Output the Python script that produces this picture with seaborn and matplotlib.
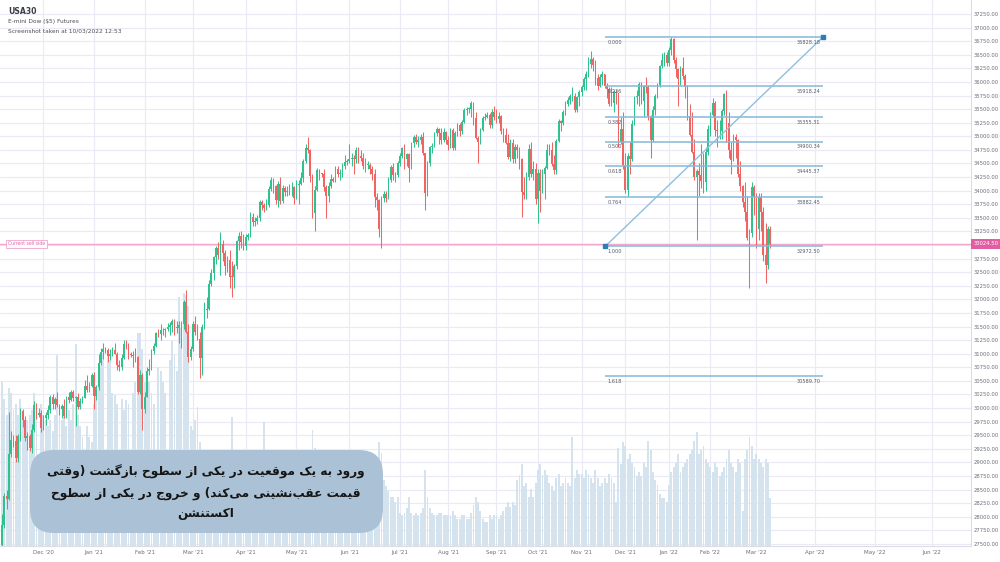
import numpy as np
import matplotlib
matplotlib.use("Agg")
import matplotlib.pyplot as plt
import seaborn as sns
from matplotlib.patches import FancyBboxPatch
from matplotlib.transforms import IdentityTransform

# ---------------- data ----------------
month_labels = ["Dec '20", "Jan '21", "Feb '21", "Mar '21", "Apr '21", "May '21", "Jun '21",
                "Jul '21", "Aug '21", "Sep '21", "Oct '21", "Nov '21", "Dec '21", "Jan '22",
                "Feb '22", "Mar '22"]
# bars per month as drawn (Nov '20 partial ... Mar '22 partial)
month_bar_counts = [18, 22, 22, 21, 23, 22, 23, 22, 21, 21, 18, 19, 19, 19, 18, 20, 7]
future_month_labels = ["Apr '22", "May '22", "Jun '22"]
future_month_bars = [353.5, 379.6, 404.3]

opens = [
 27480, 27850, 28390, 28320, 29160, 29420, 29400, 29080, 29480, 29950, 29780, 29440, 29480, 29260, 29590, 30050, 29870, 29910,
 29640, 29820, 29880, 29970, 30210, 30070, 30170, 30060, 29990, 30040, 29860, 30200, 30150, 30300, 30180, 30210, 30010, 30130, 30190, 30400, 30330, 30410,
 30600, 30220, 30390, 30820, 31040, 31090, 31060, 30950, 30990, 31060, 31000, 30800, 30750, 30920, 31180, 31170, 30990, 30970, 30950, 30930, 30300, 30600,
 29980, 30210, 30690, 30720, 31050, 31150, 31380, 31370, 31440, 31430, 31460, 31500, 31520, 31610, 31490, 31480, 31520, 31540, 31960, 31400, 30930,
 31080, 31540, 31390, 31270, 30920, 31490, 31800, 31830, 32290, 32480, 32770, 32950, 32820, 33010, 32860, 32620, 32730, 32420, 32410, 32610, 33070, 33170, 33060,
 32980, 33150, 33190, 33520, 33430, 33450, 33500, 33800, 33740, 33680, 33730, 34030, 34200, 34080, 33820, 34130, 33810, 34040, 33980, 33980, 34060, 34060,
 33870, 34110, 34130, 34230, 34550, 34780, 34740, 34270, 33590, 34020, 34380, 34320, 34300, 34060, 33900, 34080, 34210, 34180, 34390, 34310, 34320, 34460, 34530,
 34540, 34580, 34600, 34580, 34750, 34630, 34600, 34450, 34470, 34480, 34390, 34300, 33890, 33820, 33290, 33870, 33940, 33870, 34190, 34430, 34280, 34290,
 34500, 34630, 34780, 34580, 34680, 34420, 34870, 34990, 34890, 34930, 34980, 34690, 33960, 34510, 34800, 34820, 35060, 35140, 35060, 34930, 35080,
 34940, 34840, 35110, 34790, 35060, 35200, 35100, 35260, 35480, 35500, 35510, 35620, 35340, 34960, 34890, 35120, 35330, 35360, 35400, 35210, 35450,
 35360, 35310, 35370, 35100, 35030, 34880, 34610, 34870, 34580, 34810, 34750, 34580, 33970, 33920, 34260, 34760, 34300, 34390,
 33840, 34320, 34000, 34310, 34410, 34750, 34740, 34490, 34380, 34910, 35290, 35250, 35450, 35600, 35670, 35740, 35750, 35490, 35730,
 35810, 35910, 36050, 36150, 36330, 36430, 36320, 36080, 35920, 36100, 36140, 35930, 35870, 35600, 35620, 35810, 35800, 34900, 35130,
 34480, 34020, 34640, 34580, 35230, 35720, 35750, 35970, 35650, 35930, 35900, 35370, 34930, 35490, 35750, 35950, 36300, 36400, 36490,
 36340, 36580, 36790, 36400, 36230, 36060, 36250, 36110, 35910, 35370, 35030, 34710, 34260, 34360, 34290, 34170, 34160, 34720,
 35130, 35400, 35620, 35110, 35090, 35090, 35460, 35770, 35240, 34740, 34570, 34990, 34930, 34310, 34080, 33800, 33600, 33130, 33220, 34060,
 33890, 33290, 33890, 33610, 32820, 32630, 33290]

closes = [
 27850, 28390, 28320, 29160, 29420, 29400, 29080, 29480, 29950, 29780, 29440, 29480, 29260, 29590, 30050, 29870, 29910, 29640,
 29820, 29880, 29970, 30210, 30070, 30170, 30060, 29990, 30040, 29860, 30200, 30150, 30300, 30180, 30210, 30010, 30130, 30190, 30400, 30330, 30410, 30600,
 30220, 30390, 30820, 31040, 31090, 31060, 30950, 30990, 31060, 31000, 30800, 30750, 30920, 31180, 31170, 30990, 30970, 30950, 30930, 30300, 30600, 29980,
 30210, 30690, 30720, 31050, 31150, 31380, 31370, 31440, 31430, 31460, 31500, 31520, 31610, 31490, 31480, 31520, 31540, 31960, 31400, 30930, 31080,
 31540, 31390, 31270, 30920, 31490, 31800, 31830, 32290, 32480, 32770, 32950, 32820, 33010, 32860, 32620, 32730, 32420, 32410, 32610, 33070, 33170, 33060, 32980,
 33150, 33190, 33520, 33430, 33450, 33500, 33800, 33740, 33680, 33730, 34030, 34200, 34080, 33820, 34130, 33810, 34040, 33980, 33980, 34060, 34060, 33870,
 34110, 34130, 34230, 34550, 34780, 34740, 34270, 33590, 34020, 34380, 34320, 34300, 34060, 33900, 34080, 34210, 34180, 34390, 34310, 34320, 34460, 34530, 34540,
 34580, 34600, 34580, 34750, 34630, 34600, 34450, 34470, 34480, 34390, 34300, 33890, 33820, 33290, 33870, 33940, 33870, 34190, 34430, 34280, 34290, 34500,
 34630, 34780, 34580, 34680, 34420, 34870, 34990, 34890, 34930, 34980, 34690, 33960, 34510, 34800, 34820, 35060, 35140, 35060, 34930, 35080, 34940,
 34840, 35110, 34790, 35060, 35200, 35100, 35260, 35480, 35500, 35510, 35620, 35340, 34960, 34890, 35120, 35330, 35360, 35400, 35210, 35450, 35360,
 35310, 35370, 35100, 35030, 34880, 34610, 34870, 34580, 34810, 34750, 34580, 33970, 33920, 34260, 34760, 34300, 34390, 33840,
 34320, 34000, 34310, 34410, 34750, 34740, 34490, 34380, 34910, 35290, 35250, 35450, 35600, 35670, 35740, 35750, 35490, 35730, 35810,
 35910, 36050, 36150, 36330, 36430, 36320, 36080, 35920, 36100, 36140, 35930, 35870, 35600, 35620, 35810, 35800, 34900, 35130, 34480,
 34020, 34640, 34580, 35230, 35720, 35750, 35970, 35650, 35930, 35900, 35370, 34930, 35490, 35750, 35950, 36300, 36400, 36490, 36340,
 36580, 36790, 36400, 36230, 36060, 36250, 36110, 35910, 35370, 35030, 34710, 34260, 34360, 34290, 34170, 34160, 34720, 35130,
 35400, 35620, 35110, 35090, 35090, 35460, 35770, 35240, 34740, 34570, 34990, 34930, 34310, 34080, 33800, 33600, 33130, 33220, 34060, 33890,
 33290, 33890, 33610, 32820, 32630, 33290, 33025]

highs = [
 28050, 28440, 28500, 29930, 29580, 29500, 29500, 29530, 30000, 29980, 29850, 29560, 29520, 29700, 30120, 30090, 30000, 29960,
 29880, 29920, 30060, 30240, 30250, 30200, 30300, 30080, 30070, 30160, 30220, 30300, 30330, 30340, 30230, 30270, 30190, 30230, 30520, 30600, 30480, 30640,
 30660, 30430, 31000, 31100, 31190, 31120, 31100, 31080, 31120, 31200, 31030, 30880, 31000, 31260, 31260, 31190, 31030, 31050, 31100, 30950, 30700, 30640,
 30300, 30750, 30900, 31080, 31200, 31400, 31450, 31550, 31480, 31480, 31560, 31580, 31630, 31640, 31600, 31600, 31600, 31990, 32170, 31550, 31150,
 31600, 31700, 31550, 31400, 31550, 31950, 32050, 32350, 32560, 32800, 32980, 33060, 33230, 33100, 32900, 32800, 32900, 32700, 32650, 33100, 33230, 33250, 33200,
 33200, 33220, 33600, 33580, 33520, 33560, 33820, 33830, 33780, 33850, 34080, 34250, 34230, 34100, 34180, 34250, 34100, 34080, 34080, 34130, 34150, 34080,
 34200, 34200, 34350, 34580, 34850, 34990, 34760, 34300, 34080, 34420, 34400, 34330, 34400, 34100, 34150, 34300, 34250, 34450, 34450, 34400, 34500, 34650, 34580,
 34850, 34700, 34650, 34800, 34800, 34750, 34700, 34600, 34550, 34500, 34450, 34400, 33950, 33850, 33900, 34000, 34000, 34250, 34480, 34500, 34350, 34550,
 34700, 34800, 34850, 34700, 34700, 34900, 35020, 35050, 35000, 35050, 35080, 34700, 34550, 34820, 34880, 35080, 35170, 35150, 35150, 35150, 35100,
 35000, 35150, 35150, 35100, 35250, 35250, 35300, 35520, 35530, 35540, 35650, 35630, 35450, 35000, 35150, 35380, 35420, 35450, 35420, 35500, 35550,
 35500, 35450, 35400, 35150, 35150, 35050, 34950, 34950, 34850, 34850, 34800, 34600, 34250, 34350, 34850, 34900, 34550, 34500,
 34400, 34400, 34400, 34450, 34850, 34850, 34900, 34650, 34950, 35320, 35300, 35480, 35650, 35720, 35780, 35900, 35800, 35750, 35850,
 35950, 36100, 36200, 36450, 36570, 36450, 36400, 36150, 36150, 36200, 36150, 35980, 35900, 35900, 35850, 35850, 35800, 35350, 35450,
 34700, 34700, 34900, 35300, 35750, 35850, 36000, 36000, 35950, 36100, 35950, 35400, 35550, 35780, 35980, 36320, 36530, 36550, 36550,
 36650, 36830, 36800, 36450, 36250, 36300, 36450, 36150, 35950, 35600, 35450, 34950, 34400, 34500, 34850, 34700, 34800, 35200,
 35450, 35700, 35650, 35300, 35300, 35500, 35800, 35850, 35450, 34900, 35050, 35050, 34950, 34550, 34100, 34150, 33900, 33300, 34150, 34100,
 33950, 33950, 33950, 33700, 33400, 33350, 33350]

lows = [
 27330, 27800, 28150, 28300, 29100, 29280, 29000, 29000, 29400, 29650, 29400, 29220, 29200, 29180, 29550, 29800, 29830, 29560,
 29600, 29680, 29800, 29900, 29980, 29990, 30020, 29880, 29820, 29820, 29820, 30100, 30120, 30120, 29670, 29990, 29990, 30100, 30180, 30300, 30300, 30380,
 29990, 30150, 30340, 30800, 30900, 31020, 30850, 30890, 30950, 30990, 30700, 30680, 30700, 30900, 31080, 30900, 30940, 30760, 30850, 30250, 30250, 29600,
 29900, 30200, 30600, 30700, 31000, 31130, 31300, 31250, 31350, 31300, 31420, 31350, 31400, 31350, 31380, 31200, 31100, 31450, 31380, 30850, 30880,
 31050, 31350, 31250, 30550, 30600, 31450, 31650, 31800, 32250, 32350, 32650, 32750, 32450, 32700, 32450, 32500, 32200, 32050, 32200, 32550, 32900, 32950, 32900,
 32900, 33100, 33150, 33350, 33350, 33380, 33450, 33650, 33600, 33650, 33700, 34000, 33950, 33750, 33700, 33750, 33780, 33900, 33900, 33920, 33900, 33750,
 33850, 33750, 34100, 34150, 34500, 34700, 34150, 33500, 33250, 33990, 34200, 34250, 34000, 33500, 33800, 34050, 34150, 34150, 34250, 34200, 34250, 34400, 34480,
 34500, 34450, 34300, 34500, 34500, 34550, 34400, 34350, 34400, 34300, 34200, 33700, 33650, 33150, 32950, 33800, 33800, 33850, 34150, 34200, 34150, 34250,
 34450, 34600, 34400, 34450, 34150, 34400, 34800, 34850, 34800, 34850, 34650, 33650, 33900, 34450, 34700, 34800, 35000, 34850, 34850, 34900, 34850,
 34750, 34780, 34750, 34750, 35000, 35000, 35050, 35250, 35400, 35420, 35350, 35200, 34950, 34500, 34850, 35100, 35300, 35330, 35150, 35150, 35300,
 35250, 35250, 35050, 34900, 34850, 34580, 34550, 34500, 34500, 34600, 34400, 33520, 33850, 33850, 34200, 34250, 34200, 33750,
 33400, 33600, 33950, 33850, 34400, 34650, 34450, 34300, 34300, 34900, 35100, 35200, 35400, 35550, 35600, 35650, 35450, 35450, 35550,
 35750, 35850, 35850, 36100, 36250, 36200, 35950, 35850, 35900, 35950, 35880, 35700, 35550, 35550, 35450, 35600, 34800, 34850, 34400,
 33950, 33900, 34300, 34550, 35200, 35600, 35550, 35600, 35350, 35800, 35300, 34600, 34900, 35400, 35700, 35900, 36250, 36300, 36300,
 36300, 36500, 36350, 36100, 35550, 35950, 36050, 35700, 35300, 35000, 34700, 34200, 33100, 33900, 34050, 33950, 34000, 34650,
 35000, 35350, 35000, 34800, 34950, 34950, 35400, 34900, 34600, 34300, 34550, 34600, 34250, 34000, 33700, 33450, 33100, 32200, 33150, 33550,
 32950, 33100, 33250, 32700, 32300, 32550, 32950]

volumes_k = [
 150, 135, 120, 145, 140, 125, 130, 120, 135, 115, 110, 115, 120, 125, 140, 120, 60, 130,
 120, 115, 110, 115, 105, 120, 175, 125, 115, 120, 110, 125, 115, 130, 185, 120, 110, 100, 60, 110, 100, 95,
 130, 138, 150, 165, 177, 60, 177, 170, 140, 138, 130, 60, 135, 125, 134, 130, 60, 140, 150, 195, 195, 180,
 150, 152, 150, 140, 130, 60, 164, 160, 150, 140, 60, 170, 188, 175, 160, 228, 200, 232, 230, 220, 110,
 106, 115, 127, 95, 85, 75, 70, 75, 70, 80, 70, 75, 80, 85, 50, 70, 70, 118, 75, 70, 65, 60, 65,
 60, 25, 65, 60, 55, 60, 65, 55, 114, 60, 65, 70, 55, 60, 65, 60, 50, 45, 50, 55, 50, 55,
 60, 70, 65, 70, 75, 80, 85, 106, 90, 70, 50, 25, 55, 70, 60, 55, 25, 45, 40, 40, 35, 45, 20,
 50, 45, 50, 45, 40, 45, 50, 45, 40, 45, 50, 65, 75, 95, 85, 60, 55, 50, 45, 45, 40, 45,
 30, 28, 30, 35, 45, 30, 28, 30, 28, 30, 35, 70, 45, 35, 30, 28, 28, 30, 30, 28, 28,
 28, 28, 32, 28, 25, 25, 28, 28, 25, 25, 30, 38, 45, 40, 32, 25, 22, 22, 28, 25, 28,
 28, 25, 28, 32, 36, 40, 36, 40, 38, 60, 65, 75, 55, 58, 45, 52, 45, 58,
 70, 75, 65, 70, 65, 58, 55, 50, 62, 66, 55, 58, 62, 58, 55, 100, 62, 70, 66,
 66, 62, 70, 66, 62, 58, 70, 62, 55, 58, 62, 58, 66, 62, 58, 40, 90, 75, 95,
 92, 80, 84, 76, 72, 64, 68, 64, 76, 72, 96, 88, 68, 60, 56, 48, 44, 44, 40,
 56, 68, 72, 76, 84, 68, 72, 76, 80, 84, 88, 96, 104, 84, 88, 92, 80, 76,
 72, 68, 76, 72, 64, 68, 72, 80, 88, 76, 72, 68, 80, 76, 32, 80, 88, 100, 92, 80,
 84, 80, 76, 72, 80, 76, 44]

fib_ratios = ["0.000", "0.236", "0.382", "0.500", "0.618", "0.764", "1.000", "1.618"]
fib_prices = [36828.18, 35918.24, 35355.31, 34900.34, 34445.37, 33882.45, 32972.50, 30589.70]
fib_start_bar, fib_end_bar = 262.2, 357.0
current_price = 33024.50

header_title = "USA30"
header_sub = r"E-mini Dow (\$5) Futures"
header_time = "Screenshot taken at 10/03/2022 12:53"
sell_label = "Current sell side"
persian_lines = ["ورود به یک موقعیت در یکی از سطوح بازگشت (وقتی",
                 "قیمت عقب‌نشینی می‌کند) و خروج در یکی از سطوح",
                 "اکستنشن"]

# ---------------- minimal Persian shaping for display ----------------
AR_FORMS = {
    '\u0627': ('\uFE8D', '\uFE8E', None, None),
    '\u0628': ('\uFE8F', '\uFE90', '\uFE91', '\uFE92'),
    '\u062A': ('\uFE95', '\uFE96', '\uFE97', '\uFE98'),
    '\u062C': ('\uFE9D', '\uFE9E', '\uFE9F', '\uFEA0'),
    '\u062D': ('\uFEA1', '\uFEA2', '\uFEA3', '\uFEA4'),
    '\u062E': ('\uFEA5', '\uFEA6', '\uFEA7', '\uFEA8'),
    '\u062F': ('\uFEA9', '\uFEAA', None, None),
    '\u0631': ('\uFEAD', '\uFEAE', None, None),
    '\u0632': ('\uFEAF', '\uFEB0', None, None),
    '\u0633': ('\uFEB1', '\uFEB2', '\uFEB3', '\uFEB4'),
    '\u0634': ('\uFEB5', '\uFEB6', '\uFEB7', '\uFEB8'),
    '\u0637': ('\uFEC1', '\uFEC2', '\uFEC3', '\uFEC4'),
    '\u0639': ('\uFEC9', '\uFECA', '\uFECB', '\uFECC'),
    '\u0642': ('\uFED5', '\uFED6', '\uFED7', '\uFED8'),
    '\u0644': ('\uFEDD', '\uFEDE', '\uFEDF', '\uFEE0'),
    '\u0645': ('\uFEE1', '\uFEE2', '\uFEE3', '\uFEE4'),
    '\u0646': ('\uFEE5', '\uFEE6', '\uFEE7', '\uFEE8'),
    '\u0647': ('\uFEE9', '\uFEEA', '\uFEEB', '\uFEEC'),
    '\u0648': ('\uFEED', '\uFEEE', None, None),
    '\u06A9': ('\uFB8E', '\uFB8F', '\uFB90', '\uFB91'),
    '\u06AF': ('\uFB92', '\uFB93', '\uFB94', '\uFB95'),
    '\u06CC': ('\uFBFC', '\uFBFD', '\uFBFE', '\uFBFF'),
}


def shape_rtl(text):
    chars = list(text)
    out = []
    for i, ch in enumerate(chars):
        if ch == '\u200c':
            continue
        if ch not in AR_FORMS:
            out.append(ch)
            continue
        prev = chars[i - 1] if i > 0 else ''
        nxt = chars[i + 1] if i + 1 < len(chars) else ''
        jp = prev in AR_FORMS and AR_FORMS[prev][2] is not None
        jn = nxt in AR_FORMS and AR_FORMS[ch][2] is not None
        iso, fin, ini, med = AR_FORMS[ch]
        out.append(med if (jp and jn) else fin if jp else ini if jn else iso)
    vis = ''.join(out)[::-1]
    return vis.translate(str.maketrans('()', ')('))


# ---------------- figure ----------------
sns.set_theme(style="white")
plt.rcParams['font.family'] = ['DejaVu Sans']

W, Hpx = 1000, 562
fig = plt.figure(figsize=(W / 100, Hpx / 100), dpi=100)
fig.patch.set_facecolor('white')

plot_right_px, plot_bottom_px = 971, 546
pos = [0, (Hpx - plot_bottom_px) / Hpx, plot_right_px / W, plot_bottom_px / Hpx]
ax = fig.add_axes(pos, zorder=0)
axv = fig.add_axes(pos, zorder=1)
axc = fig.add_axes(pos, zorder=2)

n = min(len(opens), len(closes), len(highs), len(lows), len(volumes_k))
O = np.array(opens[:n], float)
C = np.array(closes[:n], float)
Hh = np.array(highs[:n], float)
L = np.array(lows[:n], float)
V = np.array(volumes_k[:n], float)
x = np.arange(n)

xlim = (-2 / 2.3, (plot_right_px - 2) / 2.3)
ylim = (27461, 37508)

# background axis with grid and scales
ax.set_xlim(xlim)
ax.set_ylim(ylim)
month_starts = np.cumsum(month_bar_counts)[:-1]
xt = list(month_starts[:len(month_labels)]) + future_month_bars
xl = month_labels[:len(month_starts)] + future_month_labels
ax.set_xticks(xt)
ax.set_xticklabels(xl)
yt = np.arange(27500, 37251, 250)
ax.set_yticks(yt)
ax.set_yticklabels([f"{v:.2f}" for v in yt])
ax.yaxis.tick_right()
ax.tick_params(axis='y', length=0, pad=2, labelsize=3.8, labelcolor='#6b6e78')
ax.tick_params(axis='x', length=0, pad=3, labelsize=4.0, labelcolor='#6b6e78')
ax.grid(True, color='#ebe9f6', lw=0.8)
for s in ['top', 'left']:
    ax.spines[s].set_visible(False)
for s in ['right', 'bottom']:
    ax.spines[s].set_color('#dcdce6')
    ax.spines[s].set_linewidth(0.8)
ax.set_facecolor('white')

# volume
sns.barplot(x=x, y=V, native_scale=True, color='#d5e3ef', saturation=1,
            width=0.8, errorbar=None, ax=axv, linewidth=0)
axv.set_xlim(xlim)
axv.set_ylim(0, 500)
axv.patch.set_visible(False)
axv.axis('off')

# candles
axc.set_xlim(xlim)
axc.set_ylim(ylim)
axc.patch.set_visible(False)
axc.axis('off')
up = C >= O
col = np.where(up, '#2fc28c', '#f16464')
axc.vlines(x, L, Hh, colors=col, lw=0.75, zorder=3)
body_lo = np.minimum(O, C)
body_h = np.maximum(np.abs(C - O), 12)
axc.bar(x, body_h, bottom=body_lo, width=0.74, color=col, linewidth=0, zorder=4)

# current sell side line
axc.axhline(current_price, color='#f2a6cd', lw=1.0, zorder=2)

# fib retracement tool
fib_col = '#86b8d8'
for r, p in zip(fib_ratios, fib_prices):
    axc.hlines(p, fib_start_bar, fib_end_bar, color=fib_col, lw=1.1, zorder=5)
    axc.annotate(r, (fib_start_bar, p), xytext=(1.5, -2), textcoords='offset points',
                 ha='left', va='top', fontsize=3.6, color='#555a63', zorder=6)
    axc.annotate(f"{p:.2f}", (fib_end_bar, p), xytext=(-2, -2), textcoords='offset points',
                 ha='right', va='top', fontsize=3.6, color='#555a63', zorder=6)
axc.plot([fib_start_bar, fib_end_bar], [fib_prices[6], fib_prices[0]], color='#8fbfe0', lw=1.0, zorder=5)
axc.plot([fib_start_bar, fib_end_bar], [fib_prices[6], fib_prices[0]], ls='none', marker='s',
         ms=3.2, color='#2f7db8', zorder=7)

# sell-side labels
axc.text(8 / plot_right_px, current_price, sell_label, transform=axc.get_yaxis_transform(),
         ha='left', va='center', fontsize=3.3, color='#e265a5', zorder=8,
         bbox=dict(boxstyle='square,pad=0.35', fc='white', ec='#f0a3cb', lw=0.6))
axc.text(1.0 + 3 / plot_right_px, current_price, f"{current_price:.2f}", transform=axc.get_yaxis_transform(),
         ha='left', va='center', fontsize=3.8, color='white', zorder=8, clip_on=False,
         bbox=dict(boxstyle='square,pad=0.5', fc='#e15ea3', ec='none'))

# header text
fig.text(8 / W, 1 - 12 / Hpx, header_title, fontsize=5.6, fontweight='bold', color='#3a3d45', va='center')
fig.text(8 / W, 1 - 22 / Hpx, header_sub, fontsize=4.2, color='#4c4f57', va='center')
fig.text(8 / W, 1 - 31 / Hpx, header_time, fontsize=4.2, color='#4c4f57', va='center')

# Persian note box
box = FancyBboxPatch((30, Hpx - 533), 353, 83, boxstyle='round,pad=0,rounding_size=24',
                     transform=IdentityTransform(), fc='#abc2d6', ec='none', zorder=20)
fig.add_artist(box)
for yy, line in zip([472, 493, 514], persian_lines):
    fig.text(206 / W, 1 - yy / Hpx, shape_rtl(line), ha='center', va='center',
             fontsize=8.7, fontweight='bold', color='#151515', zorder=21)

fig.savefig('out.png', dpi=100, facecolor='white')
